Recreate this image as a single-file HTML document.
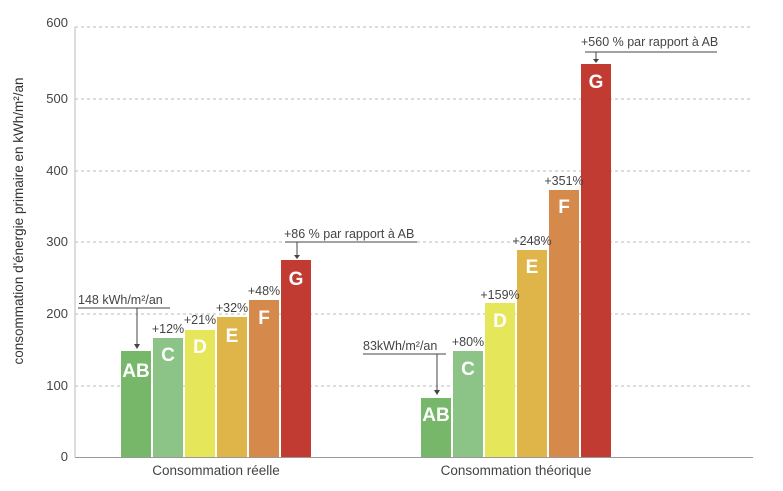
<!DOCTYPE html><html><head><style>body{margin:0;background:#fff}svg{display:block}text{font-family:"Liberation Sans",sans-serif}</style></head><body>
<svg width="783" height="491" viewBox="0 0 783 491">
<g stroke="#bbb" stroke-dasharray="3,3" stroke-width="1">
<line x1="75" y1="27" x2="753" y2="27"/><line x1="75" y1="99" x2="753" y2="99"/><line x1="75" y1="171" x2="753" y2="171"/><line x1="75" y1="242" x2="753" y2="242"/><line x1="75" y1="314" x2="753" y2="314"/><line x1="75" y1="386" x2="753" y2="386"/></g>
<line x1="75" y1="27" x2="75" y2="457" stroke="#bbb"/><line x1="75" y1="457.5" x2="753" y2="457.5" stroke="#999"/>
<g font-size="13" fill="#444" text-anchor="end"><text x="68" y="27">600</text><text x="68" y="103">500</text><text x="68" y="175">400</text><text x="68" y="246">300</text><text x="68" y="318">200</text><text x="68" y="390">100</text><text x="68" y="461">0</text></g>
<text transform="translate(23,221) rotate(-90)" font-size="13.5" fill="#333" text-anchor="middle">consommation d'énergie primaire en kWh/m²/an</text>
<g>
<rect x="121" y="351" width="30" height="106" fill="#77b76a"/><rect x="153" y="338" width="30" height="119" fill="#8cc387"/><rect x="185" y="330" width="30" height="127" fill="#e6e65a"/><rect x="217" y="317" width="30" height="140" fill="#dfb54a"/><rect x="249" y="300" width="30" height="157" fill="#d5894a"/><rect x="281" y="260" width="30" height="197" fill="#c13b33"/>
<rect x="421" y="398" width="30" height="59" fill="#77b76a"/><rect x="453" y="351" width="30" height="106" fill="#8cc387"/><rect x="485" y="303" width="30" height="154" fill="#e6e65a"/><rect x="517" y="250" width="30" height="207" fill="#dfb54a"/><rect x="549" y="190" width="30" height="267" fill="#d5894a"/><rect x="581" y="64" width="30" height="393" fill="#c13b33"/>
</g>
<g fill="#fff" font-size="19" font-weight="bold" text-anchor="middle">
<text x="136" y="377">AB</text><text x="168" y="361">C</text><text x="200" y="353">D</text><text x="232" y="342">E</text><text x="264" y="324">F</text><text x="296" y="285">G</text>
<text x="436" y="421">AB</text><text x="468" y="375">C</text><text x="500" y="327">D</text><text x="532" y="273">E</text><text x="564" y="213">F</text><text x="596" y="88">G</text></g>
<g fill="#444" font-size="12.5" text-anchor="middle">
<text x="168" y="333">+12%</text><text x="200" y="324">+21%</text><text x="232" y="312">+32%</text><text x="264" y="295">+48%</text>
<text x="468" y="346">+80%</text><text x="500" y="299">+159%</text><text x="532" y="245">+248%</text><text x="564" y="185">+351%</text></g>
<g fill="#444" font-size="12.5">
<text x="78" y="304">148 kWh/m²/an</text><text x="284" y="238">+86 % par rapport à AB</text><text x="581" y="46">+560 % par rapport à AB</text><text x="363" y="350">83kWh/m²/an</text></g>
<g stroke="#444" stroke-width="1" fill="none">
<line x1="78" y1="308" x2="170" y2="308"/><line x1="137" y1="308" x2="137" y2="344"/>
<line x1="285" y1="242" x2="417" y2="242"/><line x1="297" y1="242" x2="297" y2="255"/>
<line x1="585" y1="52" x2="717" y2="52"/><line x1="596" y1="52" x2="596" y2="60"/>
<line x1="363" y1="354" x2="446" y2="354"/><line x1="437" y1="354" x2="437" y2="390"/></g>
<g fill="#444"><path d="M134,344 L140,344 L137,349Z"/><path d="M294,255 L300,255 L297,259Z"/><path d="M593,59 L599,59 L596,63Z"/><path d="M434,390 L440,390 L437,395Z"/></g>
<g fill="#444" font-size="13.5" text-anchor="middle"><text x="216" y="475">Consommation réelle</text><text x="516" y="475">Consommation théorique</text></g>
</svg></body></html>
